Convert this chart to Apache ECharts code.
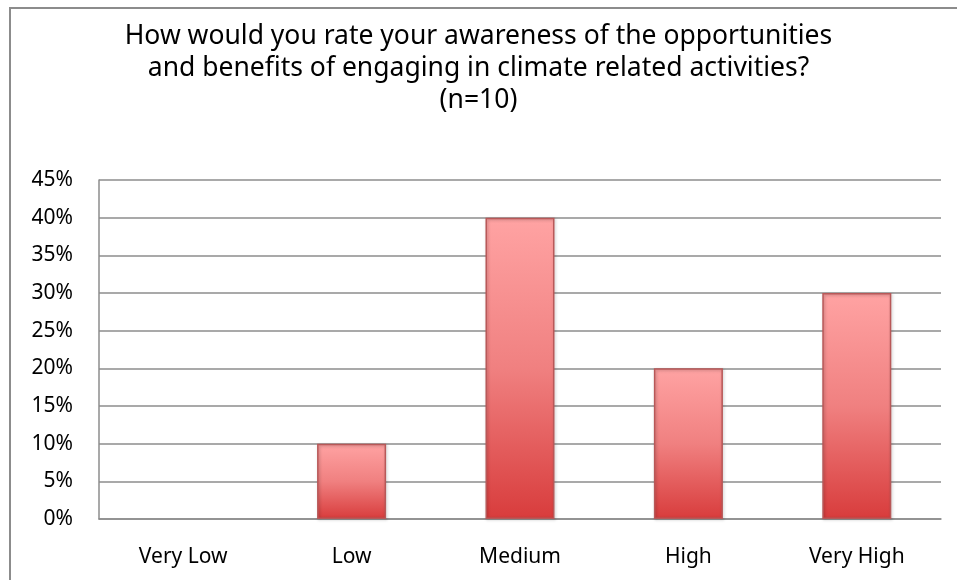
<!DOCTYPE html>
<html>
<head>
<meta charset="utf-8">
<script src="https://cdn.jsdelivr.net/npm/echarts@6/dist/echarts.min.js"></script>
<style>
html, body { margin: 0; padding: 0; background: #fff; }
#chart { width: 957px; height: 580px; }
</style>
</head>
<body>
<div id="chart"></div>
<script>
// 数据
var categories = ['Very Low', 'Low', 'Medium', 'High', 'Very High'];
var shares = [0, 10, 40, 20, 30];
var yTicks = [0, 5, 10, 15, 20, 25, 30, 35, 40, 45];

var myChart = echarts.init(document.getElementById('chart'));

var barColor = new echarts.graphic.LinearGradient(0, 0, 0, 1, [
    {offset: 0, color: '#ffa3a3'},
    {offset: 0.5, color: '#f08080'},
    {offset: 1, color: '#d83c3c'}
]);

// 0 的柱子不画边框
var barData = shares.map(function (v) {
    if (v === 0) {
        return {value: v, itemStyle: {borderWidth: 0, shadowBlur: 0, shadowOffsetX: 0, shadowOffsetY: 0}};
    }
    return v;
});

var option = {
    backgroundColor: '#fff',
    title: {
        text: 'How would you rate your awareness of the opportunities\nand benefits of engaging in climate related activities?\n(n=10)',
        left: 'center',
        top: 15,
        textStyle: {
            color: '#000',
            fontFamily: 'Noto Sans',
            fontWeight: 'normal',
            fontSize: 26.5,
            lineHeight: 32
        }
    },
    graphic: [
        {
            type: 'polyline',
            shape: {points: [[10, 580], [10, 8], [957, 8]]},
            style: {stroke: '#8c8c8c', lineWidth: 2, fill: null}
        }
    ],
    grid: {
        left: 99,
        right: 16,
        top: 180,
        bottom: 61
    },
    xAxis: {
        type: 'category',
        data: categories,
        axisLine: {lineStyle: {color: '#8c8c8c', width: 1.5}},
        axisTick: {show: false},
        axisLabel: {
            color: '#000',
            fontFamily: 'Noto Sans',
            fontSize: 21,
            margin: 28
        }
    },
    yAxis: {
        type: 'value',
        min: yTicks[0],
        max: yTicks[yTicks.length - 1],
        interval: 5,
        axisLine: {show: true, lineStyle: {color: '#8c8c8c', width: 1.5}},
        axisTick: {show: false},
        splitLine: {lineStyle: {color: '#8c8c8c', width: 1.5}},
        axisLabel: {
            color: '#000',
            fontFamily: 'Noto Sans',
            fontSize: 21,
            margin: 26,
            formatter: '{value}%'
        }
    },
    series: [
        {
            name: 'Share',
            type: 'bar',
            data: barData,
            barWidth: '41%',
            itemStyle: {
                color: barColor,
                borderColor: '#b85858',
                borderWidth: 1.5,
                shadowColor: 'rgba(0,0,0,0.25)',
                shadowBlur: 3,
                shadowOffsetX: 1,
                shadowOffsetY: 1
            }
        }
    ]
};

myChart.setOption(option);
</script>
</body>
</html>
